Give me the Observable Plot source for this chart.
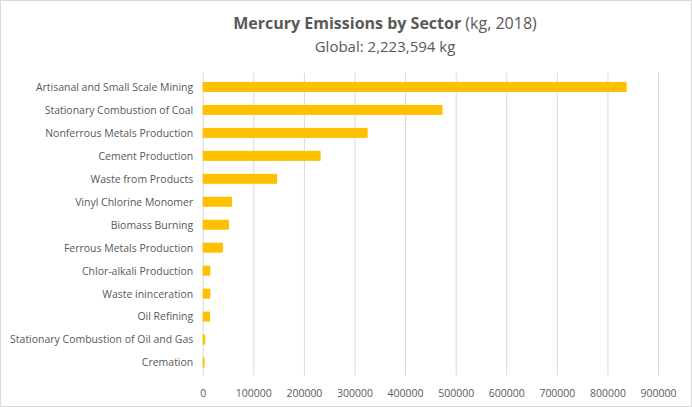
<!DOCTYPE html>
<html>
<head>
<meta charset="utf-8">
<script src="https://cdn.jsdelivr.net/npm/d3@7"></script>
<script src="https://cdn.jsdelivr.net/npm/@observablehq/plot@0.6"></script>
<style>
  html, body { margin: 0; padding: 0; background: #fff; }
  #wrap { position: relative; width: 692px; height: 407px; box-sizing: border-box; border: 1px solid #d9d9d9; overflow: hidden; font-family: "Open Sans", sans-serif; }
  #title { position: absolute; top: 12px; left: 0; width: 768px; text-align: center; color: #595959; font-size: 16px; line-height: 20px; }
  #title b { font-weight: 700; }
  #subtitle { position: absolute; top: 35px; left: 0; width: 768px; text-align: center; color: #595959; font-size: 15px; line-height: 20px; }
  #chart { position: absolute; top: 59px; left: -1px; }
</style>
</head>
<body>
<div id="wrap">
  <div id="title"><b>Mercury Emissions by Sector</b> (kg, 2018)</div>
  <div id="subtitle">Global: 2,223,594 kg</div>
  <div id="chart"></div>
</div>
<script>
const sectors = [
  "Artisanal and Small Scale Mining",
  "Stationary Combustion of Coal",
  "Nonferrous Metals Production",
  "Cement Production",
  "Waste from Products",
  "Vinyl Chlorine Monomer",
  "Biomass Burning",
  "Ferrous Metals Production",
  "Chlor-alkali Production",
  "Waste ininceration",
  "Oil Refining",
  "Stationary Combustion of Oil and Gas",
  "Cremation"
];
const emissions = [838000, 474000, 326000, 233000, 147000, 58200, 51900, 39900, 15000, 15100, 14400, 4850, 3770];
const xTicks = [0, 100000, 200000, 300000, 400000, 500000, 600000, 700000, 800000, 900000];

const data = sectors.map((s, i) => ({sector: s, value: emissions[i]}));

const chart = Plot.plot({
  width: 692,
  height: 348,
  marginTop: 13,
  marginBottom: 32,
  marginLeft: 203,
  marginRight: 33,
  style: {fontFamily: "'Open Sans', sans-serif", color: "#595959", background: "transparent"},
  x: {domain: [0, 900000], ticks: xTicks, tickFormat: d => String(d), label: null},
  y: {domain: sectors, label: null, paddingInner: 0.57, paddingOuter: 0.285},
  marks: [
    Plot.gridX(xTicks, {stroke: "#d9d9d9", strokeOpacity: 1, strokeWidth: 1}),
    Plot.axisX({ticks: xTicks, tickFormat: d => String(d), tickSize: 0, tickPadding: 14, fontSize: 10.5, fill: "#595959", label: null}),
    Plot.axisY({tickSize: 0, tickPadding: 10, fontSize: 10.5, fill: "#595959", label: null}),
    Plot.barX(data, {y: "sector", x: "value", fill: "#FFC000"})
  ]
});
document.getElementById("chart").appendChild(chart);
</script>
</body>
</html>
